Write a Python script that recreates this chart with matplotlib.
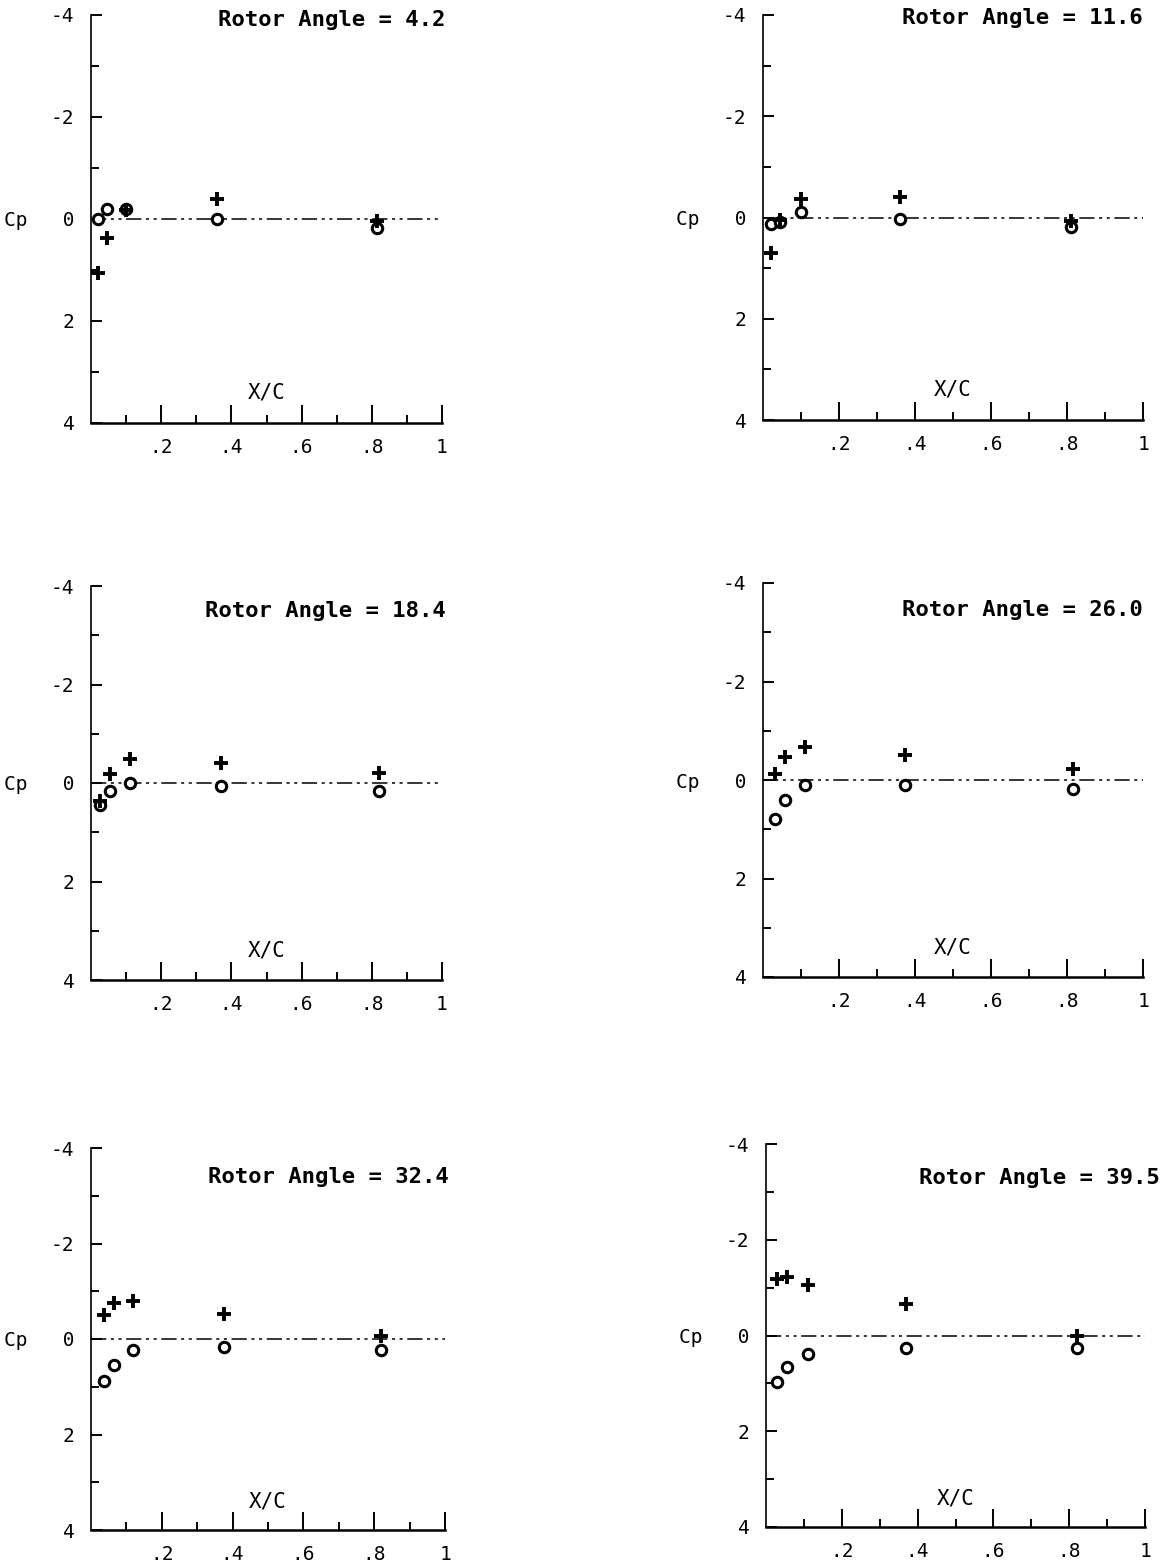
import matplotlib.pyplot as plt

plt.rcParams['font.family'] = ['DejaVu Sans Mono', 'DejaVu Sans']

# rotor angle of each panel
angles = ['4.2', '11.6', '18.4', '26.0', '32.4', '39.5']

# x/c of the pressure taps, read per panel
x_taps = [
    [0.020, 0.047, 0.10, 0.36, 0.815],
    [0.020, 0.045, 0.10, 0.36, 0.81],
    [0.026, 0.054, 0.11, 0.37, 0.82],
    [0.032, 0.058, 0.11, 0.374, 0.816],
    [0.036, 0.064, 0.12, 0.377, 0.82],
    [0.028, 0.055, 0.112, 0.37, 0.82],
]

# Cp, circles
cp_circle = [
    [0.0, -0.19, -0.2, 0.0, 0.18],
    [0.12, 0.08, -0.1, 0.03, 0.18],
    [0.45, 0.16, 0.0, 0.06, 0.16],
    [0.79, 0.41, 0.11, 0.11, 0.18],
    [0.89, 0.55, 0.24, 0.17, 0.24],
    [0.98, 0.65, 0.38, 0.27, 0.27],
]

# Cp, plus signs
cp_plus = [
    [1.05, 0.38, -0.18, -0.4, 0.03],
    [0.7, 0.05, -0.36, -0.4, 0.07],
    [0.36, -0.18, -0.48, -0.4, -0.21],
    [-0.13, -0.47, -0.67, -0.5, -0.23],
    [-0.51, -0.75, -0.79, -0.53, -0.07],
    [-1.17, -1.23, -1.06, -0.65, 0.0],
]

# panel boxes in pixels: left, right, top, bottom
boxes = [
    (91, 442, 15, 423),
    (763, 1143, 15, 420),
    (91, 442, 586, 980),
    (763, 1143, 583, 977),
    (91, 445, 1148, 1530),
    (766, 1145, 1144, 1527),
]
title_y = [-3.9, -3.95, -3.5, -3.45, -3.4, -3.3]
title_x = [1.01, 1.0, 1.01, 1.0, 1.01, 1.04]

W, H = 1175, 1565
fig = plt.figure(figsize=(W / 100, H / 100), dpi=100)

for i in range(6):
    l, r, t, b = boxes[i]
    ax = fig.add_axes([l / W, 1 - b / H, (r - l) / W, (b - t) / H])

    # zero line
    ax.plot([0, 1], [0, 0], color='black', lw=1.1,
            linestyle=(0, (10, 3, 2, 3, 2, 3)), zorder=2)

    ax.plot(x_taps[i], cp_circle[i], 'o', mfc='white', mec='black',
            ms=7.5, mew=2.2, clip_on=False, zorder=3)
    ax.plot(x_taps[i], cp_plus[i], '+', color='black',
            ms=10, mew=2.8, clip_on=False, zorder=4)

    ax.set_xlim(0, 1)
    ax.set_ylim(4, -4)

    ax.set_xticks([0.2, 0.4, 0.6, 0.8, 1.0])
    ax.set_xticklabels(['.2', '.4', '.6', '.8', '1'])
    ax.set_xticks([0.1, 0.3, 0.5, 0.7, 0.9], minor=True)
    ax.set_yticks([-4, -2, 0, 2, 4])
    ax.set_yticklabels(['-4', '-2', 'Cp   0', '2', '4'])
    ax.set_yticks([-3, -1, 1, 3], minor=True)

    ax.tick_params(axis='x', which='major', direction='in', length=13,
                   width=1.4, pad=11, labelsize=14)
    ax.tick_params(axis='x', which='minor', direction='in', length=6, width=1.4)
    ax.tick_params(axis='y', which='major', direction='in', length=8,
                   width=1.4, pad=12, labelsize=14)
    ax.tick_params(axis='y', which='minor', direction='in', length=6, width=1.4)

    for s in ['top', 'right']:
        ax.spines[s].set_visible(False)
    ax.spines['left'].set_linewidth(1.2)
    ax.spines['bottom'].set_linewidth(1.8)

    ax.text(title_x[i], title_y[i], 'Rotor Angle = ' + angles[i], ha='right',
            va='center', fontsize=16, fontweight='bold')
    ax.text(0.5, 3.4, 'X/C', ha='center', va='center', fontsize=15)

fig.savefig('out.png', dpi=100)
